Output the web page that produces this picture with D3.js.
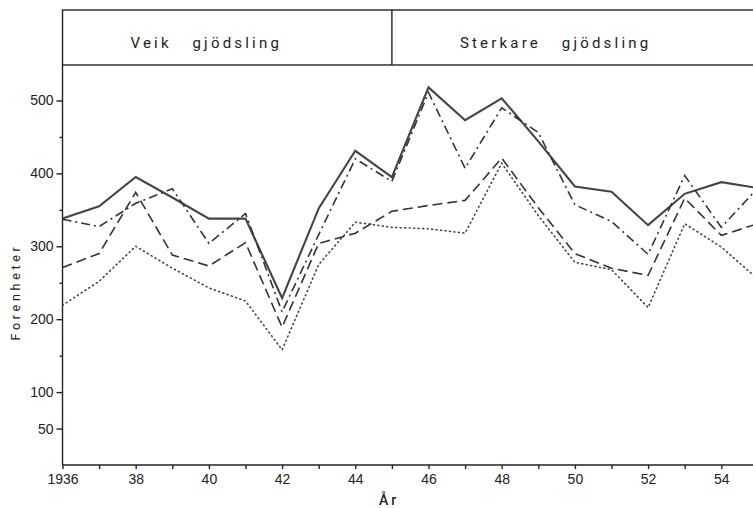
<!DOCTYPE html>
<html>
<head>
<meta charset="utf-8">
<script src="https://cdn.jsdelivr.net/npm/d3@7"></script>
<style>
  body { margin: 0; background: #fff; }
  svg { display: block; font-family: Roboto, 'Liberation Sans', sans-serif; }
  .axis path { display: none; }
  .axis line { stroke: #222; stroke-width: 1.4; }
  .axis text { fill: #222; font-size: 14px; font-weight: 500; }
  .head { font-size: 15px; letter-spacing: 3.2px; fill: #222; white-space: pre; }
</style>
</head>
<body>
<script>
const years = d3.range(1936, 1956);
const solid   = [338, 355, 395, 367, 338, 338, 229, 352, 431, 395, 518, 473, 503, 444, 382, 375, 329, 372, 388, 380];
const dashDot = [337, 327, 359, 379, 304, 345, 210, 316, 420, 389, 511, 407, 490, 456, 357, 334, 289, 397, 326, 380];
const dashed  = [271, 290, 374, 288, 273, 305, 189, 304, 318, 348, 356, 363, 421, 353, 290, 270, 260, 366, 315, 331];
const dotted  = [219, 252, 300, 270, 243, 225, 158, 275, 333, 326, 324, 318, 414, 342, 278, 268, 216, 331, 299, 255];
const yTicks = [50, 100, 200, 300, 400, 500];
const yMinor = [150, 250, 350, 450];
const headers = [['Veik   gjödsling', 1936], ['Sterkare   gjödsling', 1945]];

const width = 753, height = 508;
const left = 62.5, bottom = 465, plotTop = 65, frameTop = 10;

const svg = d3.select('body')
  .append('svg')
  .attr('width', width)
  .attr('height', height);

const x = d3.scaleLinear()
  .domain([1936, 1955])
  .range([left, left + 19 * 36.6]);

const y = d3.scaleLinear()
  .domain([0, 548.7])
  .range([bottom, plotTop]);

// header frame
svg.append('rect')
  .attr('x', left)
  .attr('y', frameTop)
  .attr('width', width)
  .attr('height', plotTop - frameTop)
  .attr('fill', 'none')
  .attr('stroke', '#222')
  .attr('stroke-width', 1.4);

svg.append('line')
  .attr('x1', x(1945)).attr('x2', x(1945))
  .attr('y1', frameTop).attr('y2', plotTop)
  .attr('stroke', '#222')
  .attr('stroke-width', 1.4);

svg.selectAll('.head')
  .data(headers)
  .enter()
  .append('text')
  .attr('class', 'head')
  .attr('x', (d) => x(d[1]) + 68)
  .attr('y', 48)
  .text((d) => d[0]);

// axes
svg.append('line')
  .attr('x1', left).attr('x2', left)
  .attr('y1', plotTop).attr('y2', bottom)
  .attr('stroke', '#222')
  .attr('stroke-width', 1.4);

svg.append('line')
  .attr('x1', left).attr('x2', width)
  .attr('y1', bottom).attr('y2', bottom)
  .attr('stroke', '#222')
  .attr('stroke-width', 1.6);

svg.append('g')
  .attr('class', 'axis')
  .attr('transform', 'translate(' + left + ',0)')
  .call(d3.axisLeft(y).tickValues(yTicks).tickSize(6).tickPadding(3));

svg.append('g')
  .attr('class', 'axis')
  .attr('transform', 'translate(' + left + ',0)')
  .call(d3.axisLeft(y).tickValues(yMinor).tickSize(3).tickFormat(''));

svg.append('g')
  .attr('class', 'axis')
  .attr('transform', 'translate(0,' + bottom + ')')
  .call(d3.axisBottom(x)
    .tickValues(years)
    .tickSize(4)
    .tickPadding(5)
    .tickFormat((d) => d % 2 ? '' : (d === 1936 ? '1936' : String(d).slice(2))));

svg.append('text')
  .attr('transform', 'translate(20,292) rotate(-90)')
  .attr('text-anchor', 'middle')
  .attr('font-size', 12.5)
  .attr('letter-spacing', 3.7)
  .attr('fill', '#222')
  .text('Forenheter');

svg.append('text')
  .attr('x', 389)
  .attr('y', 505)
  .attr('text-anchor', 'middle')
  .attr('font-size', 14)
  .attr('font-weight', 500)
  .attr('letter-spacing', 3)
  .attr('fill', '#222')
  .text('År');

// series
const line = d3.line()
  .x((d, i) => x(years[i]))
  .y((d) => y(d));

const series = [
  [solid, null, 2.1, '#444'],
  [dashDot, '9,4,2,4', 1.6, '#333'],
  [dashed, '10,5', 1.6, '#333'],
  [dotted, '1,3.5', 1.6, '#444']
];

svg.selectAll('.series')
  .data(series)
  .enter()
  .append('path')
  .attr('class', 'series')
  .attr('d', (d) => line(d[0]))
  .attr('fill', 'none')
  .attr('stroke', (d) => d[3])
  .attr('stroke-width', (d) => d[2])
  .attr('stroke-dasharray', (d) => d[1])
  .attr('stroke-linecap', (d) => d[1] === '1,3.5' ? 'round' : 'butt')
  .attr('stroke-linejoin', 'miter');
</script>
</body>
</html>
